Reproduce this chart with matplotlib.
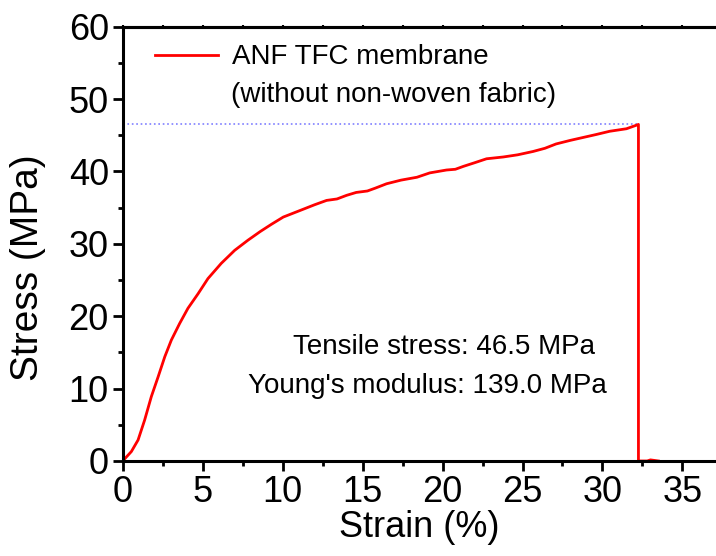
import matplotlib.pyplot as plt
from matplotlib.ticker import MultipleLocator

plt.rcParams['font.family'] = ['Liberation Sans', 'DejaVu Sans']

# strain (%) and stress (MPa)
strain = [0.0, 0.54, 0.96, 1.37, 1.79, 2.21, 2.63, 3.04, 3.56, 4.08, 4.71,
          5.33, 6.16, 7.0, 7.83, 8.6, 9.3, 10.04, 11.08, 12.0, 12.75, 13.4,
          14.0, 14.6, 15.3, 15.8, 16.5, 17.4, 18.4, 19.2, 20.25, 20.8, 21.3,
          22.0, 22.75, 23.8, 24.7, 25.66, 26.4, 27.1, 28.0, 28.8, 29.6, 30.45,
          31.5, 32.2, 32.25, 32.25, 32.8, 33.0, 33.5]
stress = [0.0, 1.3, 2.9, 5.65, 8.9, 11.6, 14.4, 16.7, 19.0, 21.1, 23.1,
          25.2, 27.3, 29.1, 30.5, 31.7, 32.7, 33.7, 34.6, 35.4, 36.0, 36.2,
          36.7, 37.1, 37.3, 37.7, 38.3, 38.8, 39.2, 39.8, 40.2, 40.3, 40.7,
          41.2, 41.75, 42.0, 42.3, 42.76, 43.2, 43.8, 44.3, 44.7, 45.1, 45.55,
          45.9, 46.45, 46.5, 0.0, 0.0, 0.15, 0.0]

tensile = 46.5
modulus = 139.0
label1 = "ANF TFC membrane"
label2 = "(without non-woven fabric)"

fig = plt.figure(figsize=(7.16, 5.56), dpi=100)
ax = fig.add_axes([0.1714, 0.1709, 0.8286, 0.7811])

# dotted guide at the tensile strength
ax.plot([0, 32.25], [tensile, tensile], ':', color='#7f7fff', linewidth=1.2)
ax.plot(strain, stress, '-', color='red', linewidth=2.0, label=label1,
        solid_joinstyle='round')

ax.set_xlim(0, 37.1)
ax.set_ylim(0, 60)

ax.xaxis.set_major_locator(MultipleLocator(5))
ax.xaxis.set_minor_locator(MultipleLocator(2.5))
ax.yaxis.set_major_locator(MultipleLocator(10))
ax.yaxis.set_minor_locator(MultipleLocator(5))

for s in ['left', 'bottom', 'top']:
    ax.spines[s].set_linewidth(2.2)
ax.spines['right'].set_visible(False)

ax.tick_params(which='major', direction='out', length=7, width=2.0,
               labelsize=26, pad=3)
ax.tick_params(which='minor', direction='out', length=3.5, width=2.0)

# small ticks on the top spine every 2.5
top = ax.secondary_xaxis('top')
top.xaxis.set_major_locator(MultipleLocator(2.5))
top.tick_params(direction='inout', length=3, width=1.5, labeltop=False)
top.spines['top'].set_linewidth(2.2)

ax.set_xlabel("Strain (%)", fontsize=26, labelpad=0)
ax.set_ylabel("Stress (MPa)", fontsize=28)
ax.yaxis.set_label_coords(-0.129, 0.444)

leg = ax.legend(loc='upper left', bbox_to_anchor=(0.055, 0.959), frameon=False,
                fontsize=20, handlelength=2.27, handletextpad=0.5,
                borderpad=0, borderaxespad=0)
ax.text(0.183, 0.843, label2, transform=ax.transAxes, fontsize=20,
        ha='left', va='center')

ax.text(10.64, 15.8, f"Tensile stress: {tensile} MPa", fontsize=20,
        ha='left', va='center')
ax.text(7.83, 10.3, f"Young's modulus: {modulus} MPa", fontsize=20,
        ha='left', va='center')

plt.savefig("out.png", dpi=100)
